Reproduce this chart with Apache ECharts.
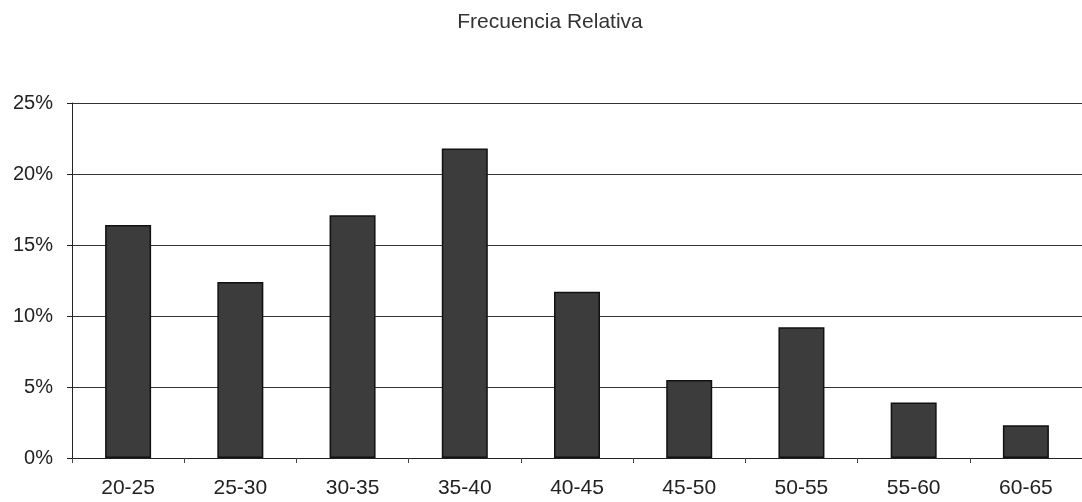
<!DOCTYPE html>
<html>
<head>
<meta charset="utf-8">
<script src="https://cdn.jsdelivr.net/npm/echarts@6/dist/echarts.min.js"></script>
<style>
html,body{margin:0;padding:0;background:#fff;}
#chart{width:1082px;height:502px;}
</style>
</head>
<body>
<div id="chart"></div>
<script>
const titleText = 'Frecuencia Relativa';
const categories = ['20-25','25-30','30-35','35-40','40-45','45-50','50-55','55-60','60-65'];
const values = [16.4, 12.4, 17.1, 21.8, 11.7, 5.5, 9.2, 3.9, 2.3];
const yTicks = [0, 5, 10, 15, 20, 25];

const chart = echarts.init(document.getElementById('chart'));
chart.setOption({
  animation: false,
  backgroundColor: '#ffffff',
  title: {
    text: titleText,
    left: 545,
    top: 7,
    textAlign: 'center',
    textStyle: {fontFamily: 'Liberation Sans, Arial, sans-serif', fontSize: 21, fontWeight: 'normal', color: '#333'}
  },
  grid: {left: 72, top: 103, bottom: 44, width: 1021},
  xAxis: {
    type: 'category',
    data: categories,
    axisLine: {lineStyle: {color: '#222', width: 1}},
    axisTick: {show: true, alignWithLabel: false, length: 5, lineStyle: {color: '#444'}},
    axisLabel: {fontFamily: 'Liberation Sans, Arial, sans-serif', fontSize: 21, color: '#222', margin: 20}
  },
  yAxis: {
    type: 'value',
    min: yTicks[0],
    max: yTicks[yTicks.length - 1],
    interval: 5,
    axisLine: {show: true, lineStyle: {color: '#222', width: 1}},
    axisTick: {show: true, length: 5, lineStyle: {color: '#222'}},
    splitLine: {show: true, lineStyle: {color: '#333', width: 1}},
    axisLabel: {fontFamily: 'Liberation Sans, Arial, sans-serif', fontSize: 20, color: '#222', margin: 19, formatter: v => v + '%'}
  },
  series: [{
    type: 'bar',
    data: values,
    barWidth: 46,
    itemStyle: {color: '#3c3c3c', borderColor: '#111', borderWidth: 1.5}
  }]
});
</script>
</body>
</html>
